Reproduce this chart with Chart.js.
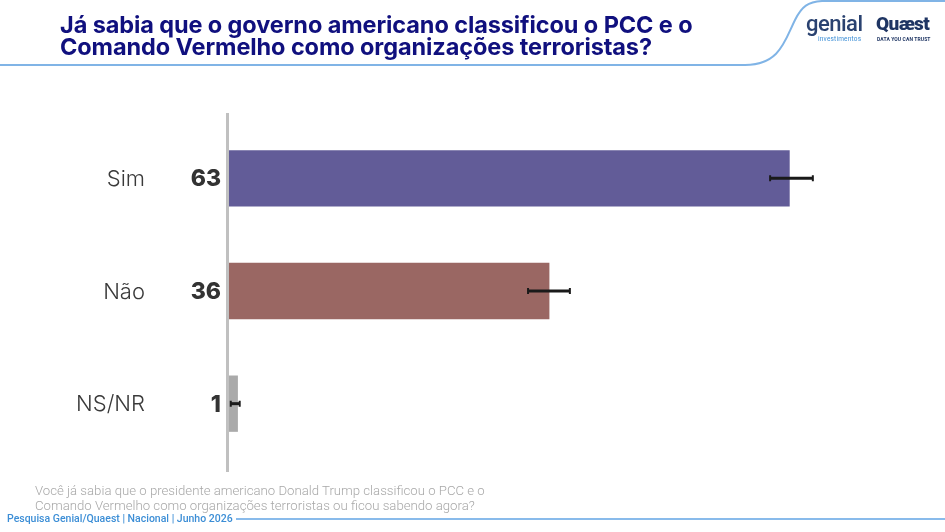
<!DOCTYPE html>
<html>
<head>
<meta charset="utf-8">
<script src="https://cdn.jsdelivr.net/npm/chart.js@4"></script>
<style>
  html,body{margin:0;padding:0;background:#fff;}
  #wrap{position:relative;width:945px;height:532px;overflow:hidden;font-family:Roboto,"Noto Sans",sans-serif;}
  #c{position:absolute;left:0;top:0;}
  .title{position:absolute;left:60px;top:14px;font-family:Inter,Roboto,sans-serif;font-weight:700;font-size:23.5px;line-height:22px;color:#10107e;letter-spacing:-0.1px;white-space:nowrap;}
  .question{position:absolute;left:35px;top:484px;font-weight:300;font-size:13.2px;line-height:14.5px;color:#a8a8a8;white-space:nowrap;}
  .footer{position:absolute;left:7px;top:512px;font-weight:500;font-size:10.5px;color:#3c8ed6;white-space:nowrap;}
  .genial{position:absolute;left:806px;top:11px;font-size:22px;font-weight:500;color:#2a4270;letter-spacing:-0.5px;}
  .genial small{position:absolute;left:12px;top:24px;font-size:6.5px;font-weight:400;color:#3c8ed6;letter-spacing:0.2px;}
  .quaest{position:absolute;left:876px;top:12px;font-size:19px;font-weight:900;color:#1f3563;letter-spacing:-0.6px;}
  .quaest small{position:absolute;left:1px;top:24px;font-size:5px;font-weight:700;color:#1f3563;white-space:nowrap;letter-spacing:0.1px;}
  svg{position:absolute;left:0;top:0;}
</style>
</head>
<body>
<div id="wrap">
  <svg width="945" height="532">
    <path d="M0 65 L745 65 C780 65 785 40 795 20 C802 6 808 2 822 1 L945 1" fill="none" stroke="#80b4e6" stroke-width="2"/>
    <line x1="236" y1="519" x2="945" y2="519" stroke="#62a5e4" stroke-width="1.5"/>
  </svg>
  <canvas id="c" width="945" height="532"></canvas>
  <div class="title">Já sabia que o governo americano classificou o PCC e o<br>Comando Vermelho como organizações terroristas?</div>
  <div class="question">Você já sabia que o presidente americano Donald Trump classificou o PCC e o<br>Comando Vermelho como organizações terroristas ou ficou sabendo agora?</div>
  <div class="footer">Pesquisa Genial/Quaest | Nacional | Junho 2026</div>
  <div class="genial">genial<small>investimentos</small></div>
  <div class="quaest">Quæst<small>DATA YOU CAN TRUST</small></div>
</div>
<script>
const categories = ['Sim', 'Não', 'NS/NR'];
const values = [63, 36, 1];
const errorLow = [60.8, 33.6, 0.2];
const errorHigh = [65.6, 38.3, 1.2];
const barColors = ['#625c98', '#9a6763', '#aaaaaa'];

const decor = {
  id: 'decor',
  afterDatasetsDraw(chart) {
    const ctx = chart.ctx;
    const x = chart.scales.x, y = chart.scales.y;
    const x0 = x.getPixelForValue(0);
    ctx.save();
    // baseline axis line
    ctx.strokeStyle = '#c0c0c0';
    ctx.lineWidth = 3;
    ctx.beginPath();
    ctx.moveTo(x0 - 1.5, 113);
    ctx.lineTo(x0 - 1.5, 472);
    ctx.stroke();
    // error bars
    ctx.strokeStyle = '#1a1a1a';
    categories.forEach((c, i) => {
      const yc = y.getPixelForValue(i);
      const xl = x.getPixelForValue(errorLow[i]);
      const xh = x.getPixelForValue(errorHigh[i]);
      ctx.lineWidth = 3;
      ctx.beginPath(); ctx.moveTo(xl, yc); ctx.lineTo(xh, yc); ctx.stroke();
      ctx.lineWidth = 2;
      ctx.beginPath(); ctx.moveTo(xl, yc - 3); ctx.lineTo(xl, yc + 3);
      ctx.moveTo(xh, yc - 3); ctx.lineTo(xh, yc + 3); ctx.stroke();
    });
    // labels
    ctx.textBaseline = 'middle';
    ctx.textAlign = 'right';
    categories.forEach((c, i) => {
      const yc = y.getPixelForValue(i) + 1;
      ctx.fillStyle = '#3a3a3a';
      ctx.font = '300 22px Inter';
      ctx.fillText(c, 145, yc);
      ctx.fillStyle = '#333333';
      ctx.font = '800 23px Inter';
      ctx.fillText(String(values[i]), 221, yc);
    });
    ctx.restore();
  }
};

new Chart(document.getElementById('c'), {
  type: 'bar',
  data: {
    labels: categories,
    datasets: [{
      data: values,
      backgroundColor: barColors,
      borderWidth: 0,
      categoryPercentage: 1,
      barPercentage: 0.5
    }]
  },
  options: {
    indexAxis: 'y',
    responsive: false,
    animation: false,
    layout: { padding: { left: 229, right: 93, top: 122, bottom: 72 } },
    plugins: { legend: { display: false }, tooltip: { enabled: false } },
    scales: {
      x: { display: false, min: 0, max: 70 },
      y: { display: false }
    }
  },
  plugins: [decor]
});
</script>
</body>
</html>
